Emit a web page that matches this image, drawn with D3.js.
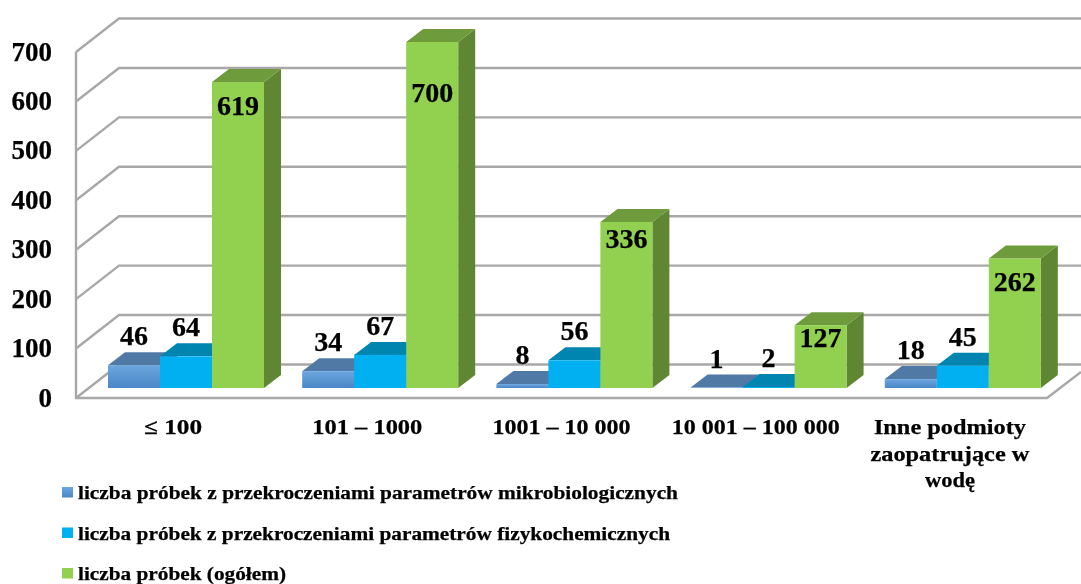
<!DOCTYPE html>
<html>
<head>
<meta charset="utf-8">
<script src="https://cdn.jsdelivr.net/npm/d3@7"></script>
<style>
html,body{margin:0;padding:0;background:#fff}
svg{display:block;filter:blur(0.45px)}
text{font-family:"Liberation Serif",serif;font-weight:bold;fill:#000;stroke:#000;stroke-width:0.25px}
</style>
</head>
<body>
<svg id="c" width="1081" height="584"></svg>
<script>
const categories = ["≤ 100", "101 – 1000", "1001 – 10 000", "10 001 – 100 000", "Inne podmioty zaopatrujące w wodę"];
const seriesNames = [
  "liczba próbek z przekroczeniami parametrów mikrobiologicznych",
  "liczba próbek z przekroczeniami parametrów fizykochemicznych",
  "liczba próbek (ogółem)"
];
const microValues = [46, 34, 8, 1, 18];
const physValues = [64, 67, 56, 2, 45];
const totalValues = [619, 700, 336, 127, 262];
const tickValues = [0, 100, 200, 300, 400, 500, 600, 700];

const seriesValues = [microValues, physValues, totalValues];
const faces = [
  {front: "url(#gradBlue)", top: "#5079a5", side: "#41719c"},
  {front: "#00b0f0", top: "#0085b0", side: "#0077a0"},
  {front: "#92d050", top: "#6e9b3c", side: "#5f8633"}
];
const legendSwatch = ["url(#gradBlue)", "#00b0f0", "#92d050"];

// layout
const wallDx = 43, wallDy = 33.5, barDx = 17, barDy = 13;
const svg = d3.select("#c");
const defs = svg.append("defs");
const g = defs.append("linearGradient").attr("id", "gradBlue").attr("x1", 0).attr("x2", 0).attr("y1", 0).attr("y2", 1);
g.append("stop").attr("offset", "0%").attr("stop-color", "#6ba6e0");
g.append("stop").attr("offset", "100%").attr("stop-color", "#4b87c6");

const yWall = d3.scaleLinear().domain([0, 700]).range([398, 52]);
const yBar = d3.scaleLinear().domain([0, 700]).range([388, 42]);
const x0 = d3.scaleBand().domain(categories).range([76, 1047]);
const x1 = d3.scaleBand().domain(d3.range(3)).range([32, 188]);

// walls and gridlines
const grid = svg.append("g").attr("fill", "none").attr("stroke", "#a8a8a8").attr("stroke-width", 2.4);
tickValues.filter(t => t > 0).forEach(t => {
  const y = yWall(t);
  grid.append("path").attr("d", `M76,${y}L${76 + wallDx},${y - wallDy}H1081`);
});
const y0 = yWall(0);
grid.append("path").attr("d", `M76,${yWall(700)}V${y0}H1047L1081,${y0 - 26}`);
grid.append("path").attr("d", `M76,${y0}L${76 + wallDx},${y0 - wallDy}H1081`);

// bars
categories.forEach((c, ci) => {
  seriesValues.forEach((vals, si) => {
    const v = vals[ci], x = x0(c) + x1(si), w = x1.bandwidth(), yt = yBar(v), yb = yBar(0), f = faces[si];
    const b = svg.append("g");
    b.append("path").attr("fill", f.side)
      .attr("d", `M${x + w},${yt}l${barDx},${-barDy}V${yb - barDy}l${-barDx},${barDy}Z`);
    b.append("path").attr("fill", f.top)
      .attr("d", `M${x},${yt}l${barDx},${-barDy}h${w}l${-barDx},${barDy}Z`);
    b.append("rect").attr("x", x).attr("y", yt).attr("width", w).attr("height", yb - yt).attr("fill", f.front);
  });
});

// data labels
const insideOffset = [33, 60, 26, 22, 33];
categories.forEach((c, ci) => {
  seriesValues.forEach((vals, si) => {
    const v = vals[ci];
    const dy = si === 2 ? insideOffset[ci] : -20;
    svg.append("text")
      .attr("x", x0(c) + x1(si) + x1.bandwidth() / 2)
      .attr("y", yBar(v) + dy)
      .attr("text-anchor", "middle")
      .attr("font-size", 28)
      .text(v);
  });
});

// value axis
const axis = d3.axisLeft(yWall).tickValues(tickValues).tickSize(0).tickPadding(24);
const ax = svg.append("g").attr("transform", "translate(76,0)").call(axis);
ax.select(".domain").remove();
ax.selectAll("text").attr("font-size", 27).attr("dy", "0.3em")
  .style("font-family", '"Liberation Serif",serif').style("font-weight", "bold");

// category labels
const catLines = c => c.startsWith("Inne") ? ["Inne podmioty", "zaopatrujące w", "wodę"] : [c];
const catWidths = [[58], [110], [138], [168], [152, 159, 50]];
categories.forEach((c, ci) => {
  catLines(c).forEach((line, i) => {
    svg.append("text").attr("text-anchor", "middle").attr("font-size", 21)
      .attr("x", x0(c) + x0.bandwidth() / 2).attr("y", 434 + i * 26.5)
      .attr("textLength", catWidths[ci][i]).attr("lengthAdjust", "spacingAndGlyphs")
      .text(line);
  });
});

// legend
const legendWidth = [600, 592, 208];
seriesNames.forEach((s, i) => {
  const y = 499 + i * 40.5;
  svg.append("rect").attr("x", 62).attr("y", y - 12).attr("width", 11).attr("height", 10.5).attr("fill", legendSwatch[i]);
  svg.append("text").attr("x", 78).attr("y", y).attr("font-size", 18.5)
    .attr("textLength", legendWidth[i]).attr("lengthAdjust", "spacingAndGlyphs").text(s);
});
</script>
</body>
</html>
